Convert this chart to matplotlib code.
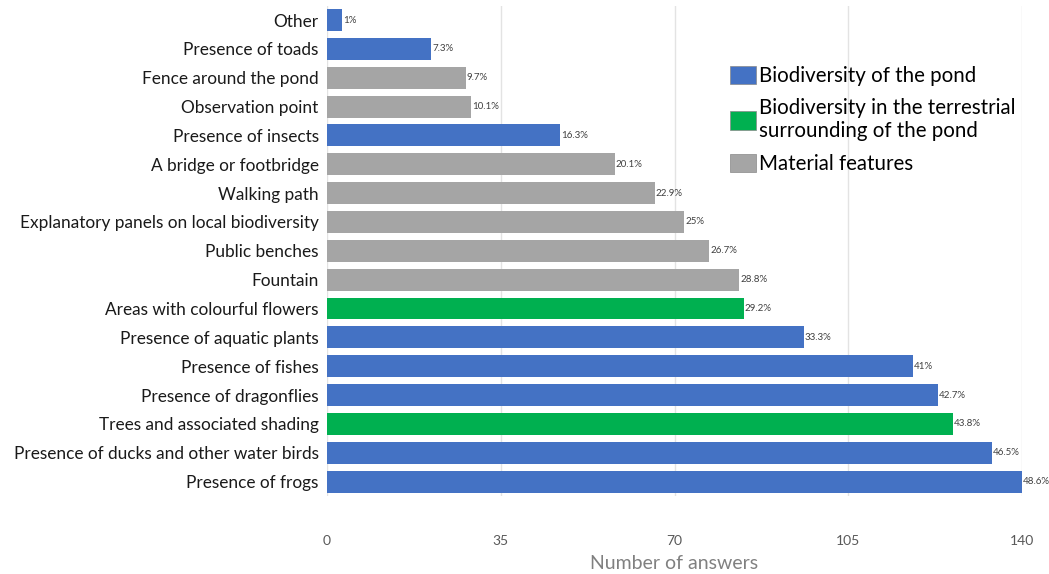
import matplotlib
matplotlib.use("Agg")
import matplotlib.pyplot as plt
from matplotlib.patches import Patch

categories = ["Other", "Presence of toads", "Fence around the pond", "Observation point",
              "Presence of insects", "A bridge or footbridge", "Walking path",
              "Explanatory panels on local biodiversity", "Public benches", "Fountain",
              "Areas with colourful flowers", "Presence of aquatic plants", "Presence of fishes",
              "Presence of dragonflies", "Trees and associated shading",
              "Presence of ducks and other water birds", "Presence of frogs"]
answers = [3, 21, 28, 29, 47, 58, 66, 72, 77, 83, 84, 96, 118, 123, 126, 134, 140]
pct_labels = ["1%", "7.3%", "9.7%", "10.1%", "16.3%", "20.1%", "22.9%", "25%", "26.7%", "28.8%",
              "29.2%", "33.3%", "41%", "42.7%", "43.8%", "46.5%", "48.6%"]
groups = ["pond", "pond", "mat", "mat", "pond", "mat", "mat", "mat", "mat", "mat",
          "terr", "pond", "pond", "pond", "terr", "pond", "pond"]
group_names = {"pond": "Biodiversity of the pond",
               "terr": "Biodiversity in the terrestrial\nsurrounding of the pond",
               "mat": "Material features"}
colors = {"pond": "#4472C4", "terr": "#00B050", "mat": "#A5A5A5"}
xticks = [0, 35, 70, 105, 140]

plt.rcParams['font.family'] = ['Lato', 'DejaVu Sans']
fig = plt.figure(figsize=(10.49, 5.74), dpi=100)
ax = fig.add_axes([327/1049, 1-496/574, (1022-327)/1049, (496-5.6)/574])

y = list(range(len(categories)))
ax.barh(y, answers, height=0.76, color=[colors[g] for g in groups], zorder=2)
for yi, v, t in zip(y, answers, pct_labels):
    ax.text(v + 0.2, yi, t, va='center', ha='left', fontsize=7, color='#404040',
            clip_on=False, fontstretch='condensed')
ax.set_ylim(len(categories) - 0.5, -0.5)
ax.set_xlim(0, 140)
ax.set_yticks(y)
ax.set_yticklabels(categories, fontsize=12.4, color='#1a1a1a')
ax.set_xticks(xticks)
ax.set_xticklabels([str(v) for v in xticks], fontsize=10, color='#595959')
ax.tick_params(axis='y', length=0, pad=6)
ax.tick_params(axis='x', length=0, pad=28)
ax.grid(axis='x', color='#e3e3e3', linewidth=1, zorder=0)
for s in ax.spines.values():
    s.set_visible(False)
ax.set_xlabel("Number of answers", fontsize=14, color='#808080', labelpad=6)

handles = [Patch(facecolor=colors[k], edgecolor='#888888', linewidth=0.5, label=group_names[k])
           for k in ["pond", "terr", "mat"]]
ax.legend(handles=handles, loc='upper left', bbox_to_anchor=(711/1049, 1-47/574),
          bbox_transform=fig.transFigure, frameon=False, fontsize=14.8,
          handlelength=1.3, handleheight=1.0, handletextpad=0.15, labelspacing=0.6)

fig.savefig("out.png", dpi=100)
